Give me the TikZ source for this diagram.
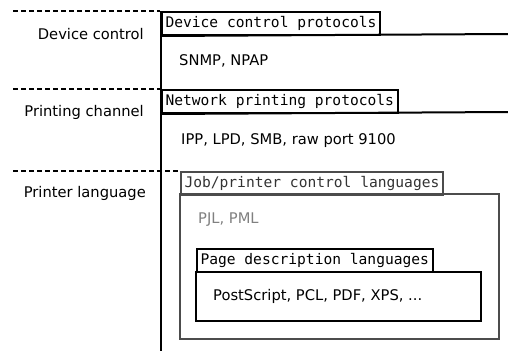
\documentclass[tikz,border=0pt]{standalone}
\usepackage{fontspec}
\setmainfont{DejaVu Sans}
\setmonofont{DejaVu Sans Mono}
\begin{document}
\begin{tikzpicture}[x=1pt,y=-1pt,
  lbl/.style={anchor=east,font=\fontsize{14.7}{16}\selectfont,inner sep=0pt},
  body/.style={anchor=west,font=\fontsize{14.7}{16}\selectfont,inner sep=0pt},
  hdr/.style={draw,line width=2pt,anchor=north west,font=\fontsize{14.6}{16}\ttfamily,inner xsep=3.5pt,inner ysep=0pt,minimum height=23pt},
  sep/.style={line width=2pt,dash pattern=on 5pt off 3pt},
  boxline/.style={line width=2pt},
  gbox/.style={line width=2pt,draw=black!70}]
\useasboundingbox (0,0) rectangle (508,351);
% dashed separators
\coordinate (d1a) at (13,11); \coordinate (d1b) at (160,11);
\coordinate (d2a) at (13,89); \coordinate (d2b) at (160,89);
\coordinate (d3a) at (13,171); \coordinate (d3b) at (178,171);
\draw[sep] (d1a) -- (d1b);
\draw[sep] (d2a) -- (d2b);
\draw[sep] (d3a) -- (d3b);
% vertical line
\coordinate (vt) at (161,11); \coordinate (vb) at (161,351);
\draw[line width=2.5pt] (vt) -- (vb);
% left labels
\node[lbl] (l1) at (144,34) {Device control};
\node[lbl] (l2) at (144,112) {Printing channel};
\node[lbl] (l3) at (146,193) {Printer language};
% device control
\node[hdr] (h1) at (161,11) {Device control protocols};
\coordinate (e1) at (508,34);
\draw[boxline] (h1.south west) -- (e1);
\node[body] (t1) at (179,61) {SNMP, NPAP};
% network printing
\node[hdr] (h2) at (161,89) {Network printing protocols};
\coordinate (e2) at (508,112);
\draw[boxline] (h2.south west) -- (e2);
\node[body] (t2) at (181,141) {IPP, LPD, SMB, raw port 9100};
% job/printer control
\node[hdr,draw=black!70,text=black!80] (h3) at (180,171) {Job/printer control languages};
\coordinate (j1) at (180,194); \coordinate (j2) at (499,339);
\draw[gbox] (j1) rectangle (j2);
\node[body,text=black!50] (t3) at (198,220) {PJL, PML};
% page description
\node[hdr] (h4) at (196,248) {Page description languages};
\coordinate (p1) at (196,272); \coordinate (p2) at (481,321);
\draw[boxline] (p1) rectangle (p2);
\node[body] (t4) at (213,296) {PostScript, PCL, PDF, XPS, ...};
\end{tikzpicture}
\end{document}
